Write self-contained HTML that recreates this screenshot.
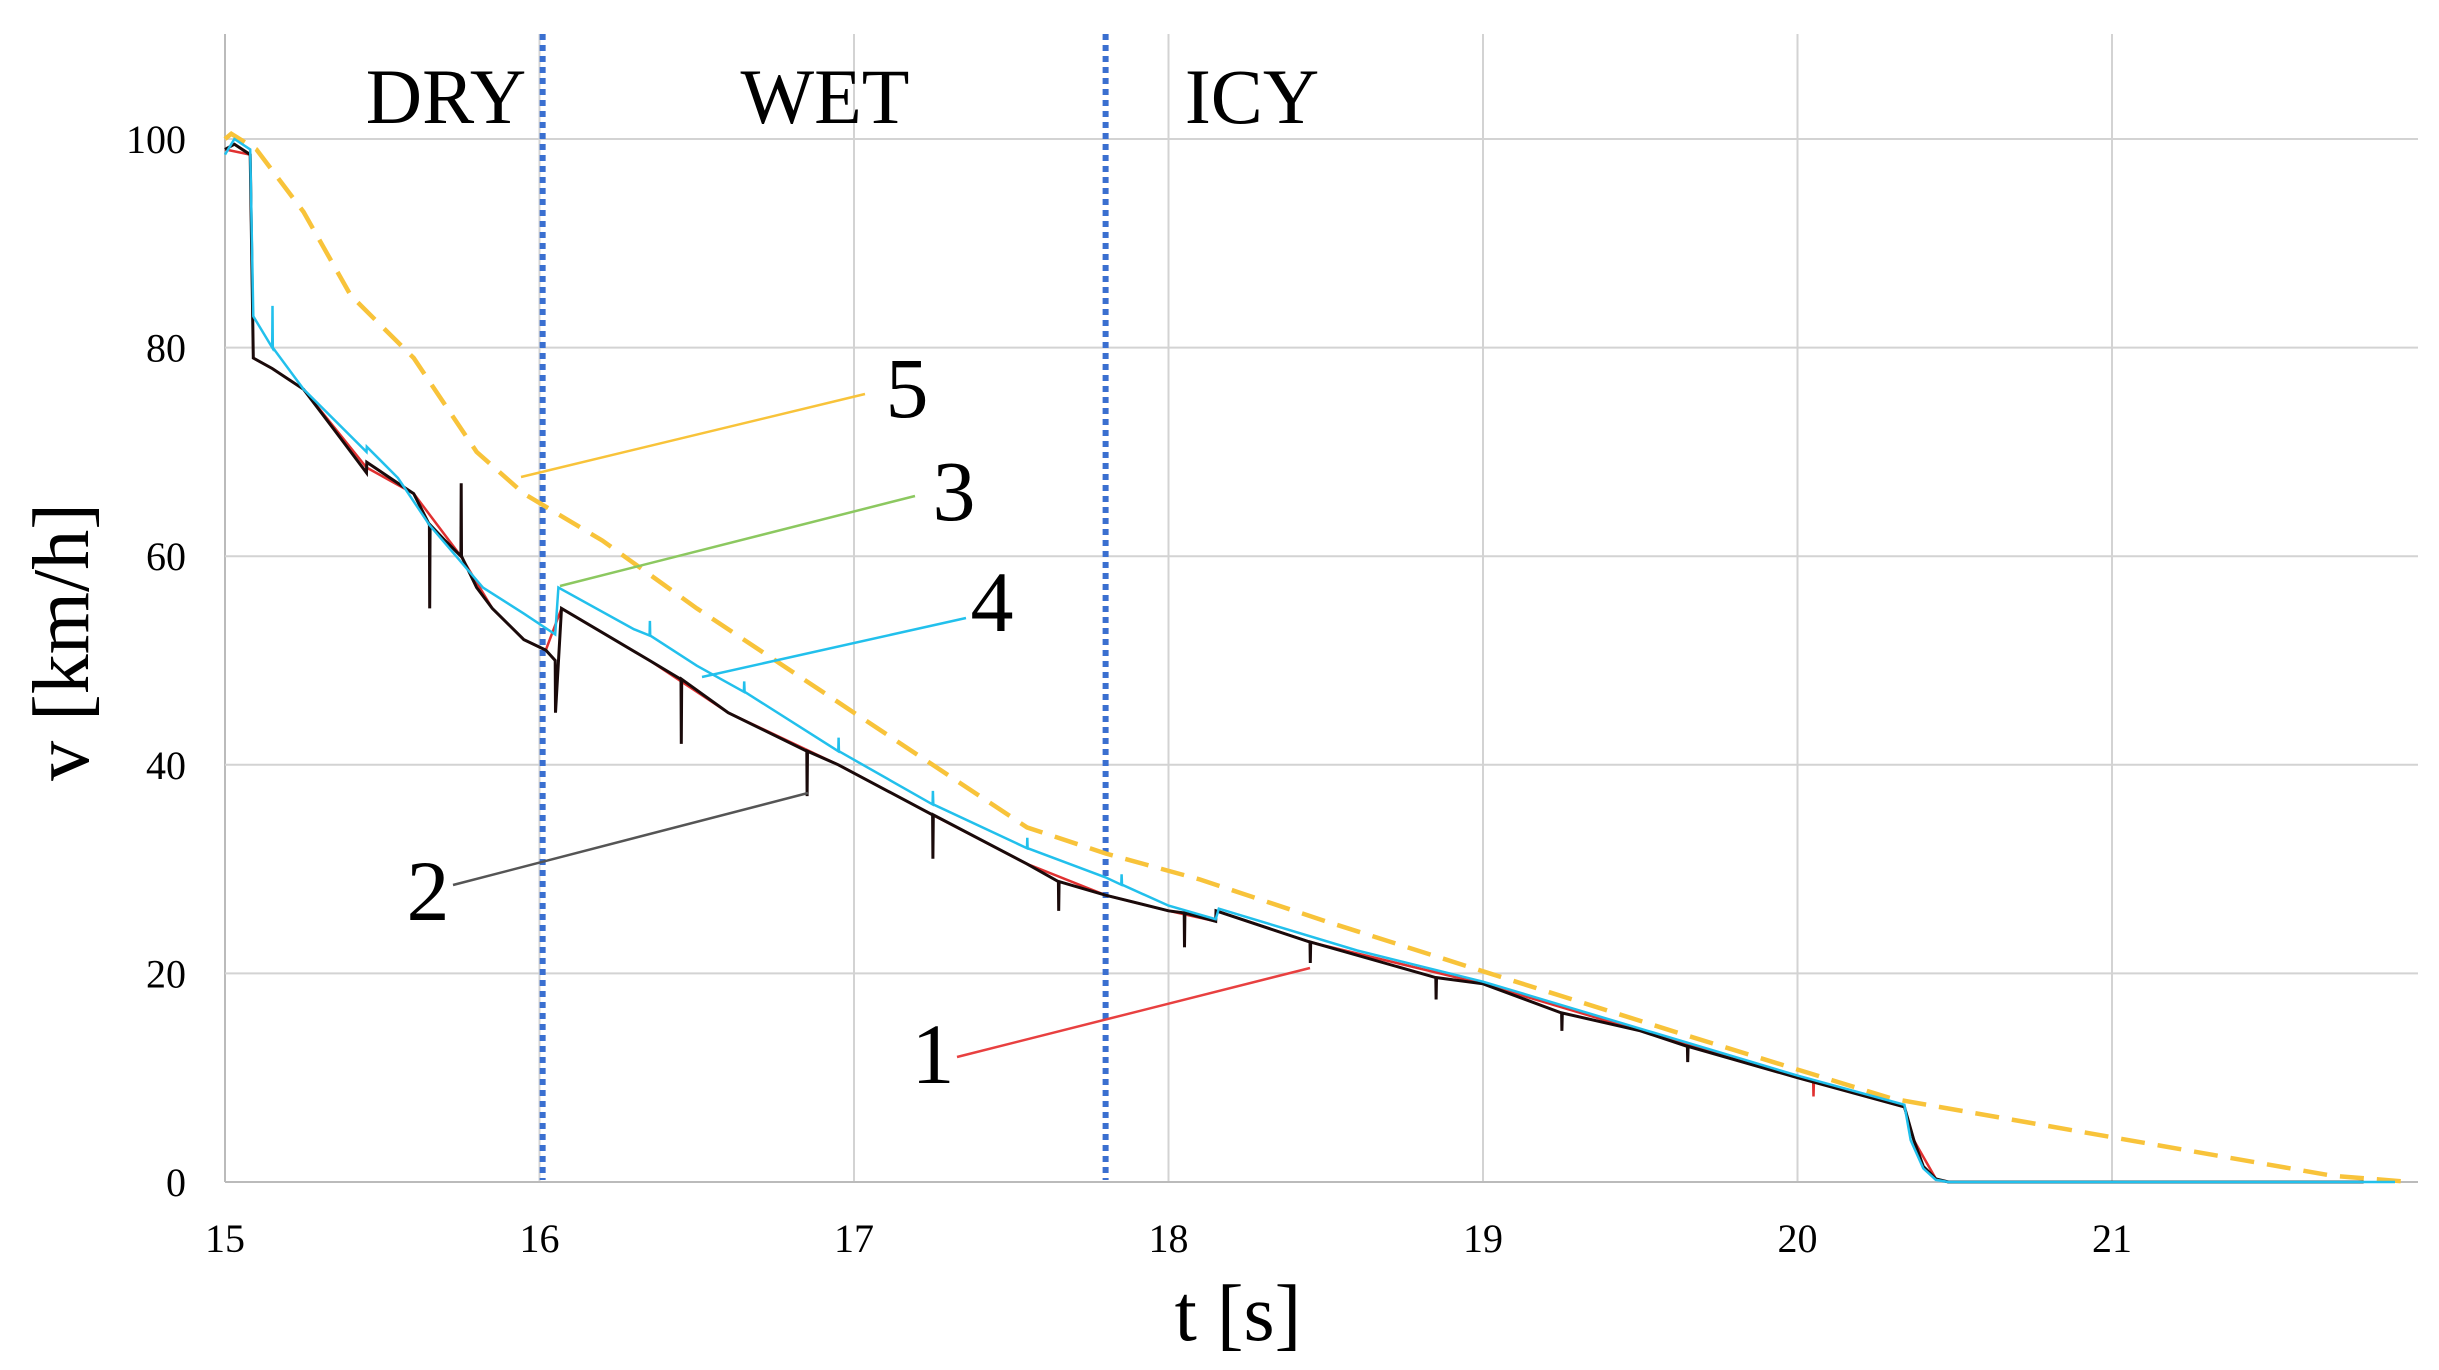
<!DOCTYPE html>
<html><head><meta charset="utf-8"><style>
html,body{margin:0;padding:0;background:#fff;}
svg{display:block;font-family:"Liberation Serif",serif;}
</style></head><body>
<svg id="chart" width="2439" height="1370" viewBox="0 0 2439 1370" xmlns="http://www.w3.org/2000/svg">
<g id="grid"></g>
<g id="zones"></g>
<g id="series"></g>
<g id="annot"></g>
<g id="ticks"></g>
<text x="446" y="123" font-size="78" text-anchor="middle">DRY</text>
<text x="825" y="123" font-size="78" text-anchor="middle">WET</text>
<text x="1252" y="123" font-size="78" text-anchor="middle">ICY</text>
<text transform="translate(88,642) rotate(-90)" font-size="80" text-anchor="middle">v [km/h]</text>
<text x="1238" y="1340" font-size="80" text-anchor="middle">t [s]</text>
</svg>
<script>
const xTicks=[15,16,17,18,19,20,21];
const yTicks=[0,20,40,60,80,100];
const zoneBounds=[16.01,17.8];
const s2t=[15.0,15.03,15.08,15.09,15.15,15.25,15.35,15.45,15.451,15.55,15.6,15.65,15.651,15.652,15.7,15.75,15.751,15.752,15.8,15.85,15.95,16.02,16.05,16.051,16.07,16.35,16.45,16.451,16.452,16.6,16.85,16.851,16.852,16.95,17.25,17.251,17.252,17.55,17.65,17.651,17.652,17.8,18.0,18.05,18.051,18.052,18.15,18.151,18.45,18.451,18.452,18.85,18.851,18.852,19.0,19.25,19.251,19.252,19.5,19.65,19.651,19.652,20.0,20.34,20.37,20.4,20.44,20.48,21.8];
const s2v=[99,99.5,98.5,79,78,76,72,68,69,67,66,63,55,63,61.5,60,67,60,57,55,52,51,50,45,55,50,48.2,42,48.2,45,41.3,37,41.3,40,35.2,31,35.2,30.5,28.8,26,28.8,27.5,26,25.8,22.5,25.8,25,26,23,21,23,19.6,17.5,19.6,19,16.2,14.5,16.2,14.5,13,11.5,13,10,7.2,4,1.5,0.3,0,0];
const s1t=[15.0,15.08,15.09,15.15,15.25,15.45,15.6,15.75,15.85,15.95,16.02,16.07,16.35,16.6,16.95,17.25,17.55,17.8,18.0,18.15,18.151,18.45,19.0,19.5,20.0,20.05,20.051,20.052,20.34,20.37,20.44,20.48];
const s1v=[99,98.5,79,78,76,68.5,66,60,55,52,51,55,50,45,40,35.2,30.5,27.5,26,25,26,23,19,14.5,10,9.6,8.2,9.6,7.2,4,0.3,0];
const s4t=[15.0,15.03,15.08,15.09,15.15,15.151,15.152,15.25,15.45,15.451,15.55,15.65,15.82,15.95,16.05,16.06,16.3,16.35,16.351,16.352,16.5,16.65,16.651,16.652,16.95,16.951,16.952,17.25,17.251,17.252,17.55,17.551,17.552,17.8,17.85,17.851,17.852,18.0,18.15,18.16,18.6,19.0,20.0,20.34,20.36,20.4,20.44,20.48,21.9];
const s4v=[98.5,100,99,83,80,84,80,76,70,70.5,67.5,63,57,54.5,52.5,57,53,52.4,53.8,52.4,49.5,47,48,47,41.3,42.6,41.3,36.2,37.5,36.2,32,33,32,29.2,28.5,29.5,28.5,26.5,25.2,26.2,22.2,19.2,10.2,7.4,4,1.3,0.2,0,0];
const s5t=[15.0,15.02,15.1,15.25,15.4,15.6,15.8,15.95,16.2,16.5,16.9,17.25,17.55,17.8,18.1,18.5,19.0,19.6,20.3,21.0,21.7,21.95];
const s5v=[100,100.5,99,93,85,79,70,66,61.5,55,47,40,34,31.5,29,25,20.2,14.5,8,4.3,0.6,0];
const X0=225,XS=314.5,Y0=1182,YS=10.43;
const xPos=t=>X0+(t-15)*XS, yPos=v=>Y0-v*YS;
const NS="http://www.w3.org/2000/svg";
function mk(tag,parent,attrs){const e=document.createElementNS(NS,tag);for(const k in attrs)e.setAttribute(k,attrs[k]);parent.appendChild(e);return e;}
const grid=document.getElementById('grid'),ticks=document.getElementById('ticks');
const XR=2418,YT=34;
xTicks.forEach(t=>{
 const l=mk('line',grid,{x1:xPos(t),x2:xPos(t),y1:YT,y2:Y0,stroke:t===15?'#bbb':'#d3d3d3','stroke-width':2});
 
 
 const tx=mk('text',ticks,{x:xPos(t),y:1252,'font-size':40,'text-anchor':'middle'});tx.textContent=t;
 
 
});
yTicks.forEach(v=>{
 const l=mk('line',grid,{x1:X0,x2:XR,y1:yPos(v),y2:yPos(v),stroke:v===0?'#bbb':'#d3d3d3','stroke-width':2});
 
 
 const tx=mk('text',ticks,{x:186,y:yPos(v)+14,'font-size':40,'text-anchor':'end'});tx.textContent=v;
 
 
});
const zones=document.getElementById('zones');
zoneBounds.forEach(t=>{
 const l=mk('line',zones,{x1:xPos(t),x2:xPos(t),y1:YT,y2:Y0-2,stroke:'#3a6fd0','stroke-width':6,'stroke-dasharray':'6 5'});
 
 
});
const series=document.getElementById('series');
function path(ts,vs){return ts.map((t,i)=>(i?'L':'M')+xPos(t).toFixed(1)+' '+yPos(vs[i]).toFixed(1)).join(' ');}
let p;
p=mk('path',series,{d:path(s5t,s5v),fill:'none',stroke:'#f8c33a','stroke-width':4.5,'stroke-dasharray':'24 13'});


p=mk('path',series,{d:path(s1t,s1v),fill:'none',stroke:'#e03030','stroke-width':2.5});


p=mk('path',series,{d:path(s2t,s2v),fill:'none',stroke:'#1a0a0a','stroke-width':3});


p=mk('path',series,{d:path(s4t,s4v),fill:'none',stroke:'#22c0ec','stroke-width':2.5});


const annot=document.getElementById('annot');
const labels=[['5',521,477,865,394,'#f8c33a',907,417],['3',560,586,915,496,'#8cc860',954,520],['4',702,677,966,618,'#22c0ec',992,631],['2',453,885,808,793,'#555',428,920],['1',957,1057,1310,968,'#e84040',933,1083]];
labels.forEach(a=>{
 const l=mk('line',annot,{x1:a[1],y1:a[2],x2:a[3],y2:a[4],stroke:a[5],'stroke-width':2.5});
 
 
 const tx=mk('text',annot,{x:a[6],y:a[7],'font-size':86,'text-anchor':'middle'});tx.textContent=a[0];
 
 
});
</script>
</body></html>
